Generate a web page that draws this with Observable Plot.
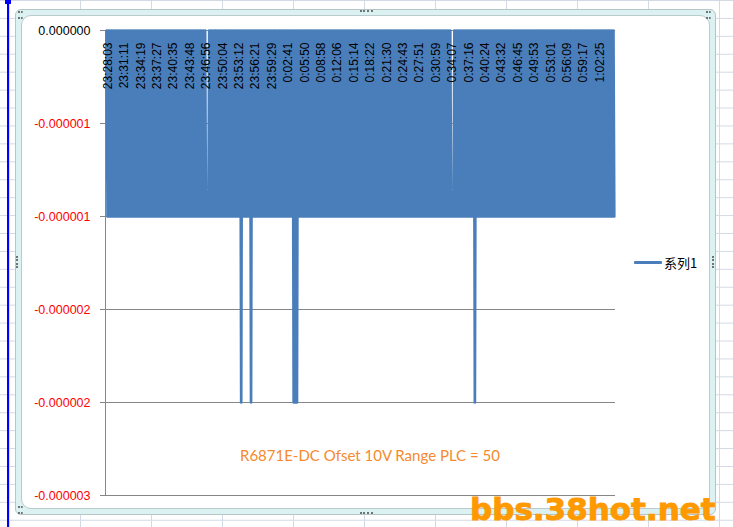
<!DOCTYPE html>
<html><head><meta charset="utf-8">
<script src="https://cdn.jsdelivr.net/npm/d3@7"></script>
<script src="https://cdn.jsdelivr.net/npm/@observablehq/plot@0.6"></script>
<style>
html,body{margin:0;padding:0;background:#fff;}
#wrap{position:relative;width:733px;height:527px;overflow:hidden;background-color:#fff;
 background-image:linear-gradient(to right,#d3d9e5 1px,transparent 1px),linear-gradient(to bottom,#d3d9e5 1px,transparent 1px);
 background-size:71px 17.93px;background-position:9px 0;}
#pb{position:absolute;left:7px;top:0;width:2px;height:527px;background:#0000ff;}
#pbh{position:absolute;left:5px;top:0;width:6px;height:4px;background:#0000ff;}
#frame{position:absolute;left:15px;top:9px;width:699px;height:504px;background:#dcf1f1;border:1px solid #b4c6c8;border-radius:6px;}
#inner{position:absolute;left:21px;top:15px;width:687px;height:492px;background:#fff;border:1px solid #b9cbcd;border-radius:10px;}
.hh{position:absolute;width:13px;height:0;border-top:2px dotted #6e7373;}
.hv{position:absolute;width:0;height:12px;border-left:2px dotted #6e7373;}
.hc{position:absolute;width:5px;height:4px;border-top:2px dotted #6e7373;border-bottom:2px dotted #6e7373;}
#chart{position:absolute;left:0;top:0;}
#legend{position:absolute;left:634px;top:252px;height:20px;display:flex;align-items:center;font-family:'Noto Sans CJK SC',sans-serif;font-size:13px;color:#000;}
#legend .sw{width:28px;height:3px;background:#4A7EBB;margin-right:2px;border-radius:1px;}
#note{position:absolute;left:240px;top:445px;font-family:Lato,'Open Sans',sans-serif;font-size:15px;color:#F58A2E;white-space:nowrap;line-height:20px;}
#wm{position:absolute;left:470px;top:494px;font-family:'DejaVu Sans',sans-serif;font-weight:bold;font-size:31px;line-height:1;color:#FF9900;white-space:nowrap;-webkit-text-stroke:0.9px #FF9900;}
</style></head>
<body>
<div id="wrap">
  <div id="pb"></div><div id="pbh"></div>
  <div id="frame"></div>
  <div id="inner"></div>
  <div class="hh" style="left:360px;top:10px"></div>
  <div class="hh" style="left:360px;top:512px"></div>
  <div class="hv" style="left:16px;top:256px"></div>
  <div class="hv" style="left:712px;top:256px"></div>
  <div class="hc" style="left:18px;top:11px"></div>
  <div class="hc" style="left:18px;top:506px"></div>
  <div class="hc" style="left:706px;top:11px"></div>
  <div id="chart"></div>
  <div id="legend"><div class="sw"></div><span>系列1</span></div>
  <div id="note">R6871E-DC Ofset 10V Range PLC = 50</div>
  <div id="wm">bbs.38hot.net</div>
</div>
<script>
// category labels (one every 20 readings)
const times = ["23:28:03","23:31:11","23:34:19","23:37:27","23:40:35","23:43:48","23:46:56","23:50:04","23:53:12","23:56:21","23:59:29",
  "0:02:41","0:05:50","0:08:58","0:12:06","0:15:14","0:18:22","0:21:30","0:24:43","0:27:51","0:30:59",
  "0:34:07","0:37:16","0:40:24","0:43:32","0:46:45","0:49:53","0:53:01","0:56:09","0:59:17","1:02:25"];
const labelEvery = 20;

// readings in microvolts (x 1e-6 V), 20 per row = one label interval per row
const readings = [
 0,-1,0,-1,0,-1,0,-1,0,-1,0,-1,0,-1,0,-1,0,-1,0,-1,
 0,-1,0,-1,0,-1,0,-1,0,-1,0,-1,0,-1,0,-1,0,-1,0,-1,
 0,-1,0,-1,0,-1,0,-1,0,-1,0,-1,0,-1,0,-1,0,-1,0,-1,
 0,-1,0,-1,0,-1,0,-1,0,-1,0,-1,0,-1,0,-1,0,-1,0,-1,
 0,-1,0,-1,0,-1,0,-1,0,-1,0,-1,0,-1,0,-1,0,-1,0,-1,
 0,-1,0,-1,0,-1,0,-1,0,-1,0,-1,0,-1,0,-1,0,-1,0,-1,
 0,-1,-1,-1,-1,0,-1,0,-1,0,-1,0,-1,0,-1,0,-1,0,-1,0,
 -1,0,-1,0,-1,0,-1,0,-1,0,-1,0,-1,0,-1,0,-1,0,-1,0,
 -1,0,-1,0,-2,0,-1,0,-1,0,-1,0,-1,0,-1,0,-2,0,-1,0,
 -1,0,-1,0,-1,0,-1,0,-1,0,-1,0,-1,0,-1,0,-1,0,-1,0,
 -1,0,-1,0,-1,0,-1,0,-1,0,-1,0,-1,0,-1,0,-1,0,-1,0,
 -1,0,-1,0,-1,0,-1,0,-2,0,-2,0,-2,0,-1,0,-1,0,-1,0,
 -1,0,-1,0,-1,0,-1,0,-1,0,-1,0,-1,0,-1,0,-1,0,-1,0,
 -1,0,-1,0,-1,0,-1,0,-1,0,-1,0,-1,0,-1,0,-1,0,-1,0,
 -1,0,-1,0,-1,0,-1,0,-1,0,-1,0,-1,0,-1,0,-1,0,-1,0,
 -1,0,-1,0,-1,0,-1,0,-1,0,-1,0,-1,0,-1,0,-1,0,-1,0,
 -1,0,-1,0,-1,0,-1,0,-1,0,-1,0,-1,0,-1,0,-1,0,-1,0,
 -1,0,-1,0,-1,0,-1,0,-1,0,-1,0,-1,0,-1,0,-1,0,-1,0,
 -1,0,-1,0,-1,0,-1,0,-1,0,-1,0,-1,0,-1,0,-1,0,-1,0,
 -1,0,-1,0,-1,0,-1,0,-1,0,-1,0,-1,0,-1,0,-1,0,-1,0,
 -1,0,-1,0,-1,0,-1,0,-1,0,-1,0,-1,0,-1,0,-1,0,-1,0,
 -1,-1,-1,-1,0,-1,0,-1,0,-1,0,-1,0,-1,0,-1,0,-1,0,-1,
 0,-1,0,-1,0,-1,0,-1,0,-2,0,-1,0,-1,0,-1,0,-1,0,-1,
 0,-1,0,-1,0,-1,0,-1,0,-1,0,-1,0,-1,0,-1,0,-1,0,-1,
 0,-1,0,-1,0,-1,0,-1,0,-1,0,-1,0,-1,0,-1,0,-1,0,-1,
 0,-1,0,-1,0,-1,0,-1,0,-1,0,-1,0,-1,0,-1,0,-1,0,-1,
 0,-1,0,-1,0,-1,0,-1,0,-1,0,-1,0,-1,0,-1,0,-1,0,-1,
 0,-1,0,-1,0,-1,0,-1,0,-1,0,-1,0,-1,0,-1,0,-1,0,-1,
 0,-1,0,-1,0,-1,0,-1,0,-1,0,-1,0,-1,0,-1,0,-1,0,-1,
 0,-1,0,-1,0,-1,0,-1,0,-1,0,-1,0,-1,0,-1,0,-1,0,-1,
 0,-1,0,-1,0,-1,0,-1,0,-1,0,-1,0,-1,0,-1,0,-1,0,-1
];

const yTicks = [0,-0.5,-1,-1.5,-2,-2.5];
const yTickLabels = ["0.000000","-0.000001","-0.000001","-0.000002","-0.000002","-0.000003"];

const data = readings.map((v,i)=>({i, v}));
const fmt = d => yTickLabels[yTicks.indexOf(d)];
const xDomain = [-1.5, readings.length + 0.5];

const plot = Plot.plot({
  width:733, height:527,
  marginTop:30, marginBottom:32, marginLeft:105, marginRight:118,
  style:{background:"transparent", fontFamily:"'Liberation Sans', Arial, sans-serif", fontSize:"12px", overflow:"visible"},
  x:{domain:xDomain, axis:null},
  y:{domain:[-2.5,0], axis:null},
  marks:[
    Plot.ruleY(yTicks, {stroke:"#868686", strokeWidth:1}),
    Plot.ruleX([xDomain[0]], {stroke:"#868686", strokeWidth:1}),
    Plot.line(data, {x:"i", y:"v", stroke:"#4A7EBB", strokeWidth:2.7}),
    Plot.axisY([0], {tickFormat:fmt, tickSize:5, tickPadding:10, stroke:"#868686", color:"#000", fontSize:12.5, label:null}),
    Plot.axisY(yTicks.slice(1), {tickFormat:fmt, tickSize:5, tickPadding:10, stroke:"#868686", color:"#ff0000", fontSize:12.5, label:null}),
    Plot.text(times, {x:(d,i)=>i*labelEvery, text:d=>d, frameAnchor:"top", dy:12, dx:1.2, rotate:-90, textAnchor:"end", lineAnchor:"middle", fill:"#000", fontSize:12})
  ]
});
document.getElementById("chart").appendChild(plot);
</script>
</body></html>
